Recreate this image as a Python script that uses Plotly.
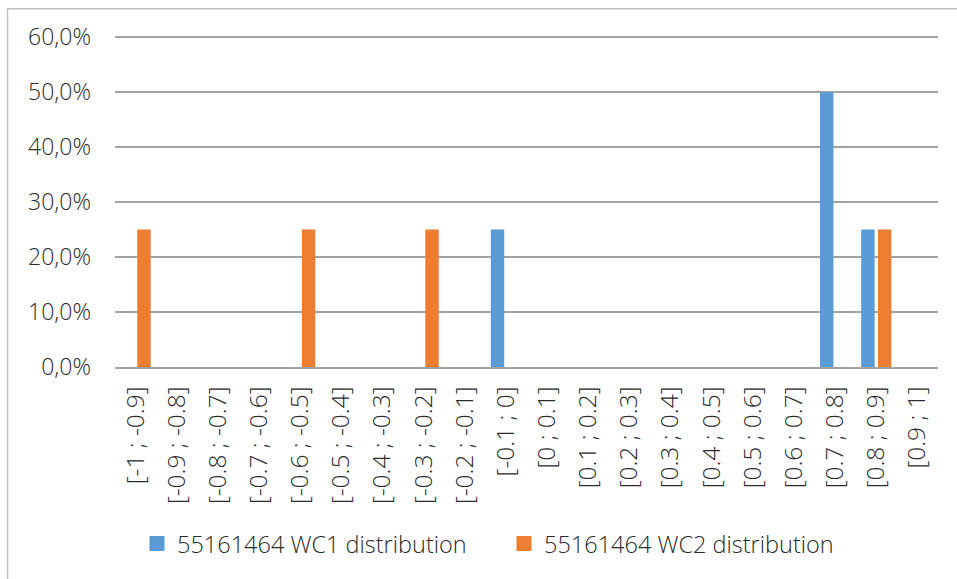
import plotly.graph_objects as go

categories = ["[-1 ; -0.9]", "[-0.9 ; -0.8]", "[-0.8 ; -0.7]", "[-0.7 ; -0.6]", "[-0.6 ; -0.5]",
              "[-0.5 ; -0.4]", "[-0.4 ; -0.3]", "[-0.3 ; -0.2]", "[-0.2 ; -0.1]", "[-0.1 ; 0]",
              "[0 ; 0.1]", "[0.1 ; 0.2]", "[0.2 ; 0.3]", "[0.3 ; 0.4]", "[0.4 ; 0.5]",
              "[0.5 ; 0.6]", "[0.6 ; 0.7]", "[0.7 ; 0.8]", "[0.8 ; 0.9]", "[0.9 ; 1]"]
wc1 = [0, 0, 0, 0, 0, 0, 0, 0, 0, 0.25, 0, 0, 0, 0, 0, 0, 0, 0.50, 0.25, 0]
wc2 = [0.25, 0, 0, 0, 0.25, 0, 0, 0.25, 0, 0, 0, 0, 0, 0, 0, 0, 0, 0, 0.25, 0]
series_names = ["55161464 WC1 distribution", "55161464 WC2 distribution"]
series_colors = ["#5B9BD5", "#ED7D31"]
y_ticks = [0, 0.1, 0.2, 0.3, 0.4, 0.5, 0.6]

FONT = "Open Sans"
TXT = "#2b2b2b"
GRID = "#a3a3a3"

fig = go.Figure()
for vals, name, col in zip([wc1, wc2], series_names, series_colors):
    fig.add_trace(go.Bar(x=categories, y=vals, name=name, showlegend=False,
                         marker=dict(color=col, line=dict(width=0))))
# legend entries (square swatches)
for name, col in zip(series_names, series_colors):
    fig.add_trace(go.Scatter(x=[None], y=[None], mode="markers", name=name,
                             marker=dict(symbol="square", size=15, color=col)))

W, H = 957, 579
YMAX = 0.606
L, R, B = 115, 19, 212
T = 37 - 330 * (YMAX - 0.6) / 0.6
pw, ph = W - L - R, H - T - B

def px_to_paper_x(px):
    return (px - L) / pw

def px_to_paper_y(py):
    return (H - B - py) / ph

fig.update_layout(
    width=W, height=H,
    margin=dict(l=L, r=R, t=T, b=B, pad=0),
    paper_bgcolor="white", plot_bgcolor="white",
    barmode="group", bargap=0.183, bargroupgap=0.2,
    separators=", ",
    font=dict(family=FONT, size=20, color=TXT, weight=300),
    showlegend=True,
    legend=dict(orientation="h", x=px_to_paper_x(137), xanchor="left",
                y=px_to_paper_y(544), yanchor="middle",
                font=dict(family=FONT, size=23.5, color=TXT, weight=300),
                itemwidth=30, traceorder="normal", itemsizing="trace",
                entrywidth=322, bgcolor="rgba(0,0,0,0)"),
    xaxis=dict(type="category", tickangle=-90, showgrid=False,
               showline=True, linecolor=GRID, linewidth=1.5,
               ticks="", ticklabelstandoff=8,
               tickfont=dict(family=FONT, size=24.5, color=TXT, weight=300)),
    yaxis=dict(range=[0, YMAX], tickvals=y_ticks, tickformat=".1%",
               showgrid=True, gridcolor=GRID, gridwidth=1.5,
               zeroline=False, showline=False, ticks="",
               ticklabelstandoff=23,
               tickfont=dict(family=FONT, size=23, color=TXT, weight=300)),
    shapes=[dict(type="rect", xref="paper", yref="paper",
                 x0=px_to_paper_x(7.5), x1=px_to_paper_x(990),
                 y0=px_to_paper_y(620), y1=px_to_paper_y(8.5),
                 line=dict(color="#bfbfbf", width=1.5), fillcolor="rgba(0,0,0,0)", layer="below")],
)

fig.write_html("out.html", config={"displayModeBar": False},
               post_script="document.body.style.margin='0';")
